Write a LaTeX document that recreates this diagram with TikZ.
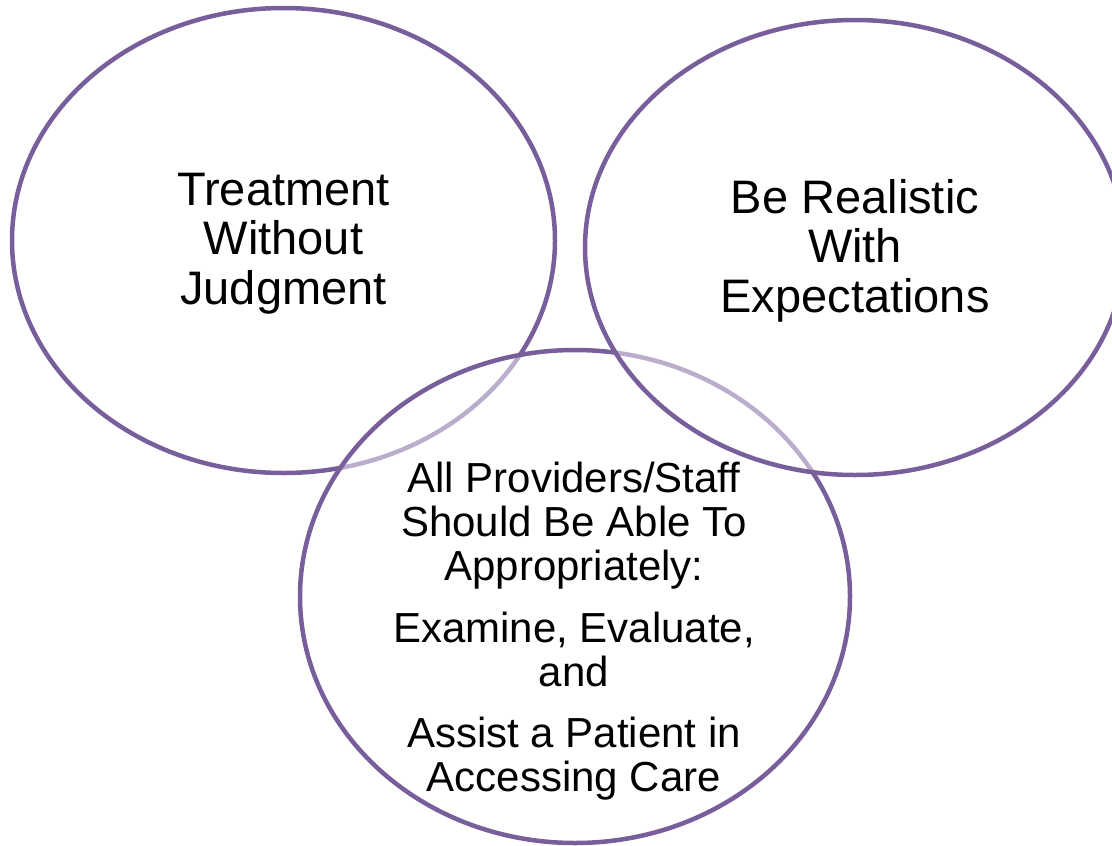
\documentclass[tikz,border=0pt]{standalone}
\usepackage{fontspec}
\setmainfont{Liberation Sans}
\usetikzlibrary{shapes.geometric}
\definecolor{ringpurple}{RGB}{120,94,154}
\tikzset{
  ring/.style={ellipse, draw=ringpurple, line width=4.5pt, fill=white,
    fill opacity=0.5, text opacity=1, inner sep=0pt},
  biglabel/.style={align=center, inner sep=0pt,
    font=\fontsize{47}{49.5}\selectfont},
  smalllabel/.style={align=center, inner sep=0pt,
    font=\fontsize{42}{44}\selectfont},
}
\begin{document}
\begin{tikzpicture}[x=1pt,y=-1pt]
\useasboundingbox (0,0) rectangle (1112,846);
% three rings, drawn left, bottom, right so each fill veils the one beneath
\node[ring, minimum width=543pt, minimum height=465pt] (leftring) at (283.5,240.5) {};
\node[ring, minimum width=550pt, minimum height=493pt] (bottomring) at (575,596.5) {};
\node[ring, minimum width=540pt, minimum height=455pt] (rightring) at (855,247.5) {};
% ring captions
\node[biglabel] (lefttext) at ([yshift=-3pt]leftring.center) {Treatment\\Without\\Judgment};
\node[biglabel] (righttext) at ([yshift=-3pt]rightring.center) {Be Realistic\\With\\Expectations};
\node[smalllabel] (bottomtext) at (574,631) {All Providers/Staff\\Should Be Able To\\Appropriately:\\[18pt]
  Examine, Evaluate,\\and\\[17pt]Assist a Patient in\\Accessing Care};
\end{tikzpicture}
\end{document}
